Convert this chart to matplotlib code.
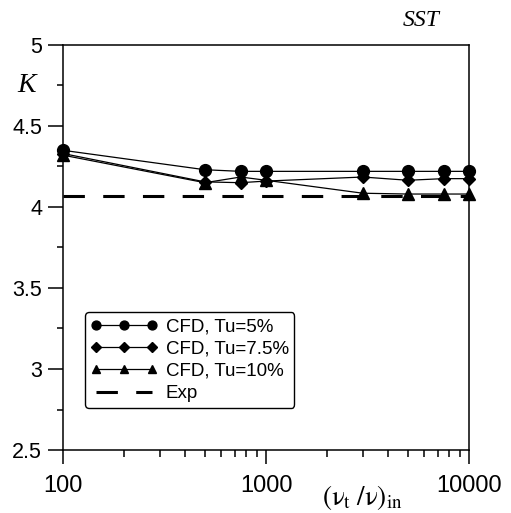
import matplotlib.pyplot as plt
import numpy as np

plt.rcParams['font.family'] = ['Liberation Sans', 'DejaVu Sans']
plt.rcParams['mathtext.fontset'] = 'stix'

# data
x = [100, 500, 750, 1000, 3000, 5000, 7500, 10000]
tu5 = [4.35, 4.23, 4.22, 4.22, 4.22, 4.22, 4.22, 4.22]
tu75 = [4.33, 4.155, 4.15, 4.16, 4.185, 4.165, 4.175, 4.175]
tu10 = [4.32, 4.15, 4.185, 4.165, 4.085, 4.08, 4.08, 4.08]
x_exp = [100, 10000]
k_exp = [4.07, 4.07]

fig = plt.figure(figsize=(5.11, 5.13), dpi=100)
ax = fig.add_axes([0.1233, 0.1228, 0.7945, 0.7895])

ax.plot(x, tu5, 'k-', marker='o', ms=8.5, lw=0.9, label='CFD, Tu=5%', clip_on=False, zorder=4)
ax.plot(x, tu75, 'k-', marker='D', ms=6.5, lw=0.9, label='CFD, Tu=7.5%', clip_on=False, zorder=4)
ax.plot(x, tu10, 'k-', marker='^', ms=8.5, lw=0.9, label='CFD, Tu=10%', clip_on=False, zorder=4)
ax.plot(x_exp, k_exp, 'k--', lw=2.2, dashes=(7, 6), label='Exp', zorder=3)

ax.set_xscale('log')
ax.set_xlim(100, 10000)
ax.set_ylim(2.5, 5)
ax.set_xticks([100, 1000, 10000])
ax.set_xticklabels(['100', '1000', '10000'])
ax.set_yticks([2.5, 3, 3.5, 4, 4.5, 5])
ax.set_yticklabels(['2.5', '3', '3.5', '4', '4.5', '5'])
ax.set_yticks(np.arange(2.5, 5.01, 0.25), minor=True)

ax.tick_params(axis='x', which='major', direction='out', length=10, width=1.1, labelsize=17, pad=8)
ax.tick_params(axis='x', which='minor', direction='out', length=5, width=1.1)
ax.tick_params(axis='y', which='major', direction='out', length=11, width=1.1, labelsize=15.5, pad=4)
ax.tick_params(axis='y', which='minor', direction='out', length=4.5, width=1.1)
for s in ax.spines.values():
    s.set_linewidth(1.1)

fig.text(27 / 511, 1 - 86 / 513, 'K', family='Liberation Serif', style='italic', fontsize=20,
         ha='center', va='center')
fig.text(421 / 511, 1 - 20 / 513, 'SST', family='Liberation Serif', style='italic', fontsize=17,
         ha='center', va='center')
fig.text(322 / 511, 1 - 497 / 513, r'$\mathrm{(ν_t\ /ν)_{in}}$', fontsize=19.5,
         ha='left', va='center')

leg = ax.legend(loc='lower left', bbox_to_anchor=(0.054, 0.104), borderaxespad=0,
                fontsize=13.5, numpoints=3, markerscale=0.75, handlelength=3.6,
                frameon=True, fancybox=True, edgecolor='black', framealpha=1,
                labelspacing=0.28, handletextpad=0.4, borderpad=0.3)
leg.get_frame().set_linewidth(1.0)

fig.savefig('out.png', dpi=100)
